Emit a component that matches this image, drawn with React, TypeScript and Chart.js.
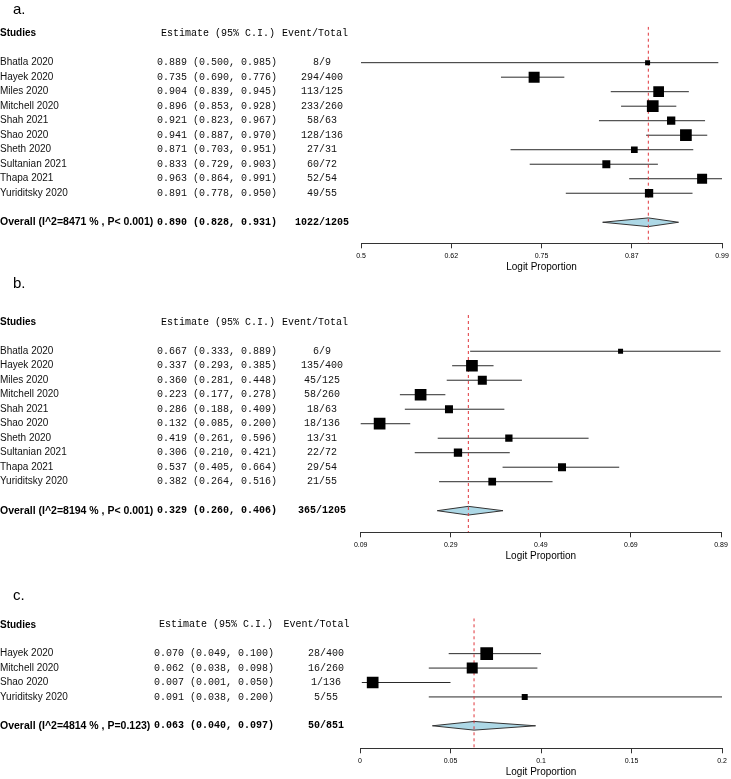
import React, { useEffect, useRef } from 'react';
import { Chart, registerables } from 'chart.js';
Chart.register(...registerables);

// ---------- Panel a ----------
const studiesA = ['Bhatla 2020', 'Hayek 2020', 'Miles 2020', 'Mitchell 2020', 'Shah 2021', 'Shao 2020', 'Sheth 2020', 'Sultanian 2021', 'Thapa 2021', 'Yuriditsky 2020'];
const estA = [0.889, 0.735, 0.904, 0.896, 0.921, 0.941, 0.871, 0.833, 0.963, 0.891];
const lowA = [0.5, 0.69, 0.839, 0.853, 0.823, 0.887, 0.703, 0.729, 0.864, 0.778];
const highA = [0.985, 0.776, 0.945, 0.928, 0.967, 0.97, 0.951, 0.903, 0.991, 0.95];
const eventsA = ['8/9', '294/400', '113/125', '233/260', '58/63', '128/136', '27/31', '60/72', '52/54', '49/55'];
const weightsA = [5, 11, 10.7, 11.7, 8.3, 11.7, 6.7, 8, 10, 8.3];
const overallA = [0.89, 0.828, 0.931];
const overallLabelA = 'Overall (I^2=8471 % , P< 0.001)';
const overallEventsA = '1022/1205';
const tickValuesA = [0.5, 0.6225, 0.745, 0.8675, 0.99];
const tickLabelsA = ['0.5', '0.62', '0.75', '0.87', '0.99'];

// ---------- Panel b ----------
const studiesB = ['Bhatla 2020', 'Hayek 2020', 'Miles 2020', 'Mitchell 2020', 'Shah 2021', 'Shao 2020', 'Sheth 2020', 'Sultanian 2021', 'Thapa 2021', 'Yuriditsky 2020'];
const estB = [0.667, 0.337, 0.36, 0.223, 0.286, 0.132, 0.419, 0.306, 0.537, 0.382];
const lowB = [0.333, 0.293, 0.281, 0.177, 0.188, 0.085, 0.261, 0.21, 0.405, 0.264];
const highB = [0.889, 0.385, 0.448, 0.278, 0.409, 0.2, 0.596, 0.421, 0.664, 0.516];
const eventsB = ['6/9', '135/400', '45/125', '58/260', '18/63', '18/136', '13/31', '22/72', '29/54', '21/55'];
const weightsB = [5, 11.7, 9, 11.7, 8, 11.7, 7.3, 8.3, 8, 7.7];
const overallB = [0.329, 0.26, 0.406];
const overallLabelB = 'Overall (I^2=8194 % , P< 0.001)';
const overallEventsB = '365/1205';
const tickValuesB = [0.09, 0.29, 0.49, 0.69, 0.89];
const tickLabelsB = ['0.09', '0.29', '0.49', '0.69', '0.89'];

// ---------- Panel c ----------
const studiesC = ['Hayek 2020', 'Mitchell 2020', 'Shao 2020', 'Yuriditsky 2020'];
const estC = [0.07, 0.062, 0.007, 0.091];
const lowC = [0.049, 0.038, 0.001, 0.038];
const highC = [0.1, 0.098, 0.05, 0.2];
const eventsC = ['28/400', '16/260', '1/136', '5/55'];
const weightsC = [12.7, 11, 11.7, 6];
const overallC = [0.063, 0.04, 0.097];
const overallLabelC = 'Overall (I^2=4814 % , P=0.123)';
const overallEventsC = '50/851';
const tickValuesC = [0, 0.05, 0.1, 0.15, 0.2];
const tickLabelsC = ['0', '0.05', '0.1', '0.15', '0.2'];

const AXIS_TITLE = 'Logit Proportion';
const W = 731;
const H = 779;
const AXIS_H = 26.5; // tickLength 5 + label 16 + title 5.5
const DIAMOND_HALF = 0.3; // in row units
const SANS = '"Liberation Sans", Arial, sans-serif';
const MONO = '"Liberation Mono", "Courier New", monospace';

type Panel = {
  letter: string; letterX: number; letterY: number;
  studies: string[]; est: number[]; low: number[]; high: number[]; events: string[]; weights: number[];
  overall: number[]; overallLabel: string; overallEvents: string;
  ticks: number[]; tickLabels: string[];
  area: { top: number; bottom: number; left: number; right: number };
  yMin: number; yMax: number;
  cols: { name: number; est: number; estHead: number; ev: number; evHead: number };
};

const panels: Panel[] = [
  {
    letter: 'a.', letterX: 13, letterY: 14,
    studies: studiesA, est: estA, low: lowA, high: highA, events: eventsA, weights: weightsA,
    overall: overallA, overallLabel: overallLabelA, overallEvents: overallEventsA,
    ticks: tickValuesA, tickLabels: tickLabelsA,
    area: { top: 26.7, bottom: 243.3, left: 361, right: 722 },
    yMin: -2.48, yMax: 12.45,
    cols: { name: 0, est: 217, estHead: 218, ev: 322, evHead: 315 },
  },
  {
    letter: 'b.', letterX: 13, letterY: 288,
    studies: studiesB, est: estB, low: lowB, high: highB, events: eventsB, weights: weightsB,
    overall: overallB, overallLabel: overallLabelB, overallEvents: overallEventsB,
    ticks: tickValuesB, tickLabels: tickLabelsB,
    area: { top: 315, bottom: 532.3, left: 360.7, right: 721 },
    yMin: -2.5, yMax: 12.49,
    cols: { name: 0, est: 217, estHead: 218, ev: 322, evHead: 315 },
  },
  {
    letter: 'c.', letterX: 13, letterY: 600,
    studies: studiesC, est: estC, low: lowC, high: highC, events: eventsC, weights: weightsC,
    overall: overallC, overallLabel: overallLabelC, overallEvents: overallEventsC,
    ticks: tickValuesC, tickLabels: tickLabelsC,
    area: { top: 618.3, bottom: 748.3, left: 360, right: 722.3 },
    yMin: -2.45, yMax: 6.56,
    cols: { name: 0, est: 214, estHead: 216, ev: 326, evHead: 316.5 },
  },
];

const fmt = (v: number) => v.toFixed(3);

function textPlugin(p: Panel) {
  return {
    id: 'forestText',
    afterDraw(chart: any) {
      const { ctx } = chart;
      const y = chart.scales.y;
      ctx.save();
      ctx.fillStyle = '#000';
      ctx.textAlign = 'left';
      ctx.textBaseline = 'alphabetic';
      ctx.font = `15px ${SANS}`;
      ctx.fillText(p.letter, p.letterX, p.letterY);

      ctx.textBaseline = 'middle';
      const hy = y.getPixelForValue(-2);
      ctx.font = `bold 10px ${SANS}`;
      ctx.fillText('Studies', p.cols.name, hy);
      ctx.font = `10px ${MONO}`;
      ctx.textAlign = 'center';
      ctx.fillText('Estimate (95% C.I.)', p.cols.estHead, hy);
      ctx.fillText('Event/Total', p.cols.evHead, hy);

      p.studies.forEach((s, i) => {
        const py = y.getPixelForValue(i);
        ctx.textAlign = 'left';
        ctx.font = `10px ${SANS}`;
        ctx.fillStyle = '#111';
        ctx.fillText(s, p.cols.name, py);
        ctx.textAlign = 'center';
        ctx.font = `10px ${MONO}`;
        ctx.fillText(`${fmt(p.est[i])} (${fmt(p.low[i])}, ${fmt(p.high[i])})`, p.cols.est, py);
        ctx.fillText(p.events[i], p.cols.ev, py);
      });

      const oy = y.getPixelForValue(p.studies.length + 1);
      ctx.fillStyle = '#000';
      ctx.textAlign = 'left';
      ctx.font = `bold 10.5px ${SANS}`;
      ctx.fillText(p.overallLabel, p.cols.name, oy);
      ctx.textAlign = 'center';
      ctx.font = `bold 10px ${MONO}`;
      ctx.fillText(`${fmt(p.overall[0])} (${fmt(p.overall[1])}, ${fmt(p.overall[2])})`, p.cols.est, oy);
      ctx.fillText(p.overallEvents, p.cols.ev, oy);
      ctx.restore();
    },
  };
}

function buildChart(canvas: HTMLCanvasElement, p: Panel) {
  const ciSets = p.studies.map((s, i) => ({
    label: s,
    data: [{ x: p.low[i], y: i }, { x: p.high[i], y: i }],
    borderColor: '#2a2a2a',
    borderWidth: 1,
    pointRadius: 0,
    showLine: true,
    fill: false,
    order: 3,
  }));
  const squares = {
    label: 'Estimates',
    data: p.est.map((e, i) => ({ x: e, y: i })),
    showLine: false,
    pointStyle: 'rect',
    pointRadius: p.weights.map((w) => w / Math.SQRT2),
    pointBackgroundColor: '#000',
    pointBorderColor: '#000',
    pointBorderWidth: 0,
    order: 0,
  };
  const [oe, ol, oh] = p.overall;
  const r = p.studies.length + 1;
  const diamond = {
    label: 'Overall',
    data: [
      { x: ol, y: r }, { x: oe, y: r - DIAMOND_HALF }, { x: oh, y: r },
      { x: oe, y: r + DIAMOND_HALF }, { x: ol, y: r },
    ],
    borderColor: '#333',
    borderWidth: 1,
    backgroundColor: '#add8e6',
    fill: 'shape',
    pointRadius: 0,
    tension: 0,
    order: 2,
  };
  const refLine = {
    label: 'Pooled',
    data: [{ x: oe, y: p.yMin }, { x: oe, y: p.yMax }],
    borderColor: '#e0353b',
    borderWidth: 1,
    borderDash: [3, 3],
    pointRadius: 0,
    fill: false,
    order: 1,
  };

  return new Chart(canvas, {
    type: 'line',
    data: { datasets: [...ciSets, diamond, refLine, squares] as any },
    options: {
      responsive: false,
      animation: false,
      devicePixelRatio: 1,
      events: [],
      layout: {
        padding: {
          left: p.area.left,
          right: W - p.area.right,
          top: p.area.top,
          bottom: H - p.area.bottom - AXIS_H,
        },
      },
      plugins: {
        legend: { display: false },
        tooltip: { enabled: false },
      },
      scales: {
        x: {
          type: 'linear',
          min: p.ticks[0],
          max: p.ticks[p.ticks.length - 1],
          afterBuildTicks: (scale: any) => {
            scale.ticks = p.ticks.map((v) => ({ value: v }));
          },
          ticks: {
            autoSkip: false,
            maxRotation: 0,
            minRotation: 0,
            padding: 0,
            color: '#000',
            font: { family: SANS, size: 7, lineHeight: 16 / 7 },
            callback: (_v: any, i: number) => p.tickLabels[i],
          },
          grid: { display: true, drawOnChartArea: false, drawTicks: true, tickLength: 5, color: '#333', lineWidth: 1 },
          border: { display: true, color: '#333', width: 1 },
          title: {
            display: true,
            text: AXIS_TITLE,
            color: '#000',
            font: { family: SANS, size: 10, lineHeight: 0.55 },
            padding: { top: 0, bottom: 0 },
          },
        },
        y: {
          type: 'linear',
          reverse: true,
          min: p.yMin,
          max: p.yMax,
          display: false,
        },
      },
    } as any,
    plugins: [textPlugin(p)],
  });
}

function ForestCanvas({ panel }: { panel: Panel }) {
  const ref = useRef<HTMLCanvasElement>(null);
  useEffect(() => {
    const chart = buildChart(ref.current as HTMLCanvasElement, panel);
    return () => chart.destroy();
  }, [panel]);
  return (
    <canvas
      ref={ref}
      width={W}
      height={H}
      style={{ position: 'absolute', left: 0, top: 0, width: W, height: H }}
    />
  );
}

export default function App() {
  return (
    <div style={{ position: 'absolute', left: 0, top: 0, width: W, height: H, background: '#fff', overflow: 'hidden' }}>
      {panels.map((p) => (
        <ForestCanvas key={p.letter} panel={p} />
      ))}
    </div>
  );
}
